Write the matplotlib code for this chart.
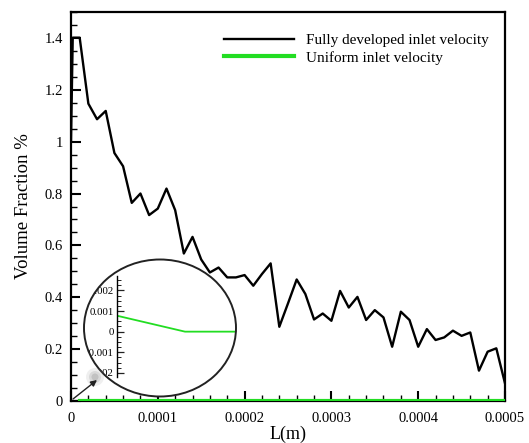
import numpy as np
import matplotlib
matplotlib.use("Agg")
import matplotlib.pyplot as plt
from matplotlib.patches import Ellipse, Polygon, FancyArrowPatch
from matplotlib.ticker import MultipleLocator, FuncFormatter

# -------------------------------
# Data
# -------------------------------
L = np.array([0, 0.000002, 0.00001, 0.00002, 0.00003, 0.00004, 0.00005, 0.00006,
              0.00007, 0.00008, 0.00009, 0.0001, 0.00011, 0.00012, 0.00013,
              0.00014, 0.00015, 0.00016, 0.00017, 0.00018, 0.00019, 0.0002,
              0.00021, 0.00022, 0.00023, 0.00024, 0.00025, 0.00026, 0.00027,
              0.00028, 0.00029, 0.0003, 0.00031, 0.00032, 0.00033, 0.00034,
              0.00035, 0.00036, 0.00037, 0.00038, 0.00039, 0.0004, 0.00041,
              0.00042, 0.00043, 0.00044, 0.00045, 0.00046, 0.00047, 0.00048,
              0.00049, 0.0005])
fully_developed = np.array([1.0, 1.40, 1.40, 1.146, 1.086, 1.118, 0.956, 0.905,
                            0.764, 0.80, 0.717, 0.742, 0.819, 0.736, 0.569,
                            0.633, 0.546, 0.496, 0.515, 0.477, 0.477, 0.486,
                            0.445, 0.49, 0.531, 0.287, 0.377, 0.469, 0.413,
                            0.315, 0.338, 0.31, 0.425, 0.361, 0.402, 0.313,
                            0.351, 0.323, 0.21, 0.345, 0.313, 0.21, 0.278,
                            0.236, 0.246, 0.272, 0.252, 0.265, 0.118, 0.191,
                            0.204, 0.069])

L_uniform = np.array([0, 0.00001, 0.0005])
uniform = np.array([0.00077, 0.0, 0.0])

plt.rcParams['font.family'] = ['Liberation Serif', 'DejaVu Serif']

W, H = 529, 443
fig = plt.figure(figsize=(W / 100, H / 100), dpi=100)
ax = fig.add_axes([71 / W, (H - 401.3) / H, 434 / W, 389.6 / H])

ax.plot(L, fully_developed, color='black', lw=1.7, label='Fully developed inlet velocity', zorder=3)
ax.plot(L_uniform[1:], uniform[1:], color='#22dd22', lw=3, label='Uniform inlet velocity', zorder=3)

ax.set_xlim(0, 0.0005)
ax.set_ylim(0, 1.5)
ax.xaxis.set_major_locator(MultipleLocator(0.0001))
ax.xaxis.set_minor_locator(MultipleLocator(0.00002))
ax.yaxis.set_major_locator(MultipleLocator(0.2))
ax.yaxis.set_minor_locator(MultipleLocator(0.05))
ax.xaxis.set_major_formatter(FuncFormatter(lambda v, p: "0" if abs(v) < 1e-12 else f"{v:.4f}"))
ax.yaxis.set_major_formatter(FuncFormatter(lambda v, p: f"{v:g}"))
ax.tick_params(which='both', direction='in', top=False, right=False, labelsize=10.5)
ax.tick_params(which='major', length=7, width=1.5)
ax.tick_params(which='minor', length=4, width=1)
ax.tick_params(axis='x', which='major', pad=8)
ax.tick_params(axis='y', which='major', pad=6)
for s in ax.spines.values():
    s.set_linewidth(1.6)

ax.set_xlabel("L(m)", fontsize=13, labelpad=0)
ax.set_ylabel("Volume Fraction %", fontsize=13.5, labelpad=9)

ax.legend(loc='upper left', bbox_to_anchor=(0.353, 0.944), frameon=False,
          fontsize=11, handlelength=4.6, labelspacing=0.25, borderpad=0,
          borderaxespad=0, handletextpad=0.75)

# -------------------------------
# Zoom circle (inset)
# -------------------------------
cx, cy, rx, ry = 160, 328, 76, 68.5
circ_kw = dict(xy=(cx / W, (H - cy) / H), width=2 * rx / W, height=2 * ry / H,
               transform=fig.transFigure)
ax.add_patch(Ellipse(**circ_kw, facecolor='white', edgecolor='none', zorder=2, clip_on=False))

ins = fig.add_axes([117.3 / W, (H - 377) / H, 118.5 / W, 101 / H])
ins.patch.set_alpha(0)
ins.plot(L_uniform, uniform, color='#22dd22', lw=1.3)
ins.set_xlim(0, 1.75e-5)
ins.set_ylim(-0.0022, 0.0027)
for side in ['top', 'right', 'bottom']:
    ins.spines[side].set_visible(False)
ins.spines['left'].set_linewidth(1.0)
ins.set_xticks([])
ins.yaxis.set_major_locator(MultipleLocator(0.001))
ins.yaxis.set_minor_locator(MultipleLocator(0.00025))
ins.yaxis.set_major_formatter(FuncFormatter(lambda v, p: "0" if abs(v) < 1e-9 else f"{v:.3f}"))
ins.tick_params(which='both', direction='in', color='#222222', labelsize=7.8)
ins.tick_params(which='major', length=5, width=0.9, pad=2.5)
ins.tick_params(which='minor', length=3, width=0.7)

# white mask left of the circle so the inset labels look cut by it
yy = np.linspace(270, 388, 120)
xl = cx - rx * np.sqrt(1 - ((yy - cy) / ry) ** 2)
pts = [(80, 270)] + list(zip(xl, yy)) + [(80, 388)]
pts = [(px / W, (H - py) / H) for px, py in pts]
ins.add_patch(Polygon(pts, closed=True, transform=fig.transFigure, facecolor='white',
                      edgecolor='none', zorder=5, clip_on=False))
ins.add_patch(Ellipse(**circ_kw, facecolor='none', edgecolor='#222222', lw=1.4,
                      zorder=6, clip_on=False))

for r, a in [(18, 0.15), (12, 0.25), (7, 0.35)]:
    ins.add_patch(Ellipse(xy=(95 / W, (H - 377) / H), width=r / W, height=r / H,
                          transform=fig.transFigure, facecolor='#999999', edgecolor='none',
                          alpha=a, zorder=7, clip_on=False))

arrow = FancyArrowPatch((73 / W, (H - 399) / H), (97 / W, (H - 380) / H),
                        transform=fig.transFigure, arrowstyle='-|>', mutation_scale=9,
                        color='#222222', lw=1.0, shrinkA=0, shrinkB=0, zorder=10)
fig.add_artist(arrow)

fig.savefig("out.png", dpi=100)
